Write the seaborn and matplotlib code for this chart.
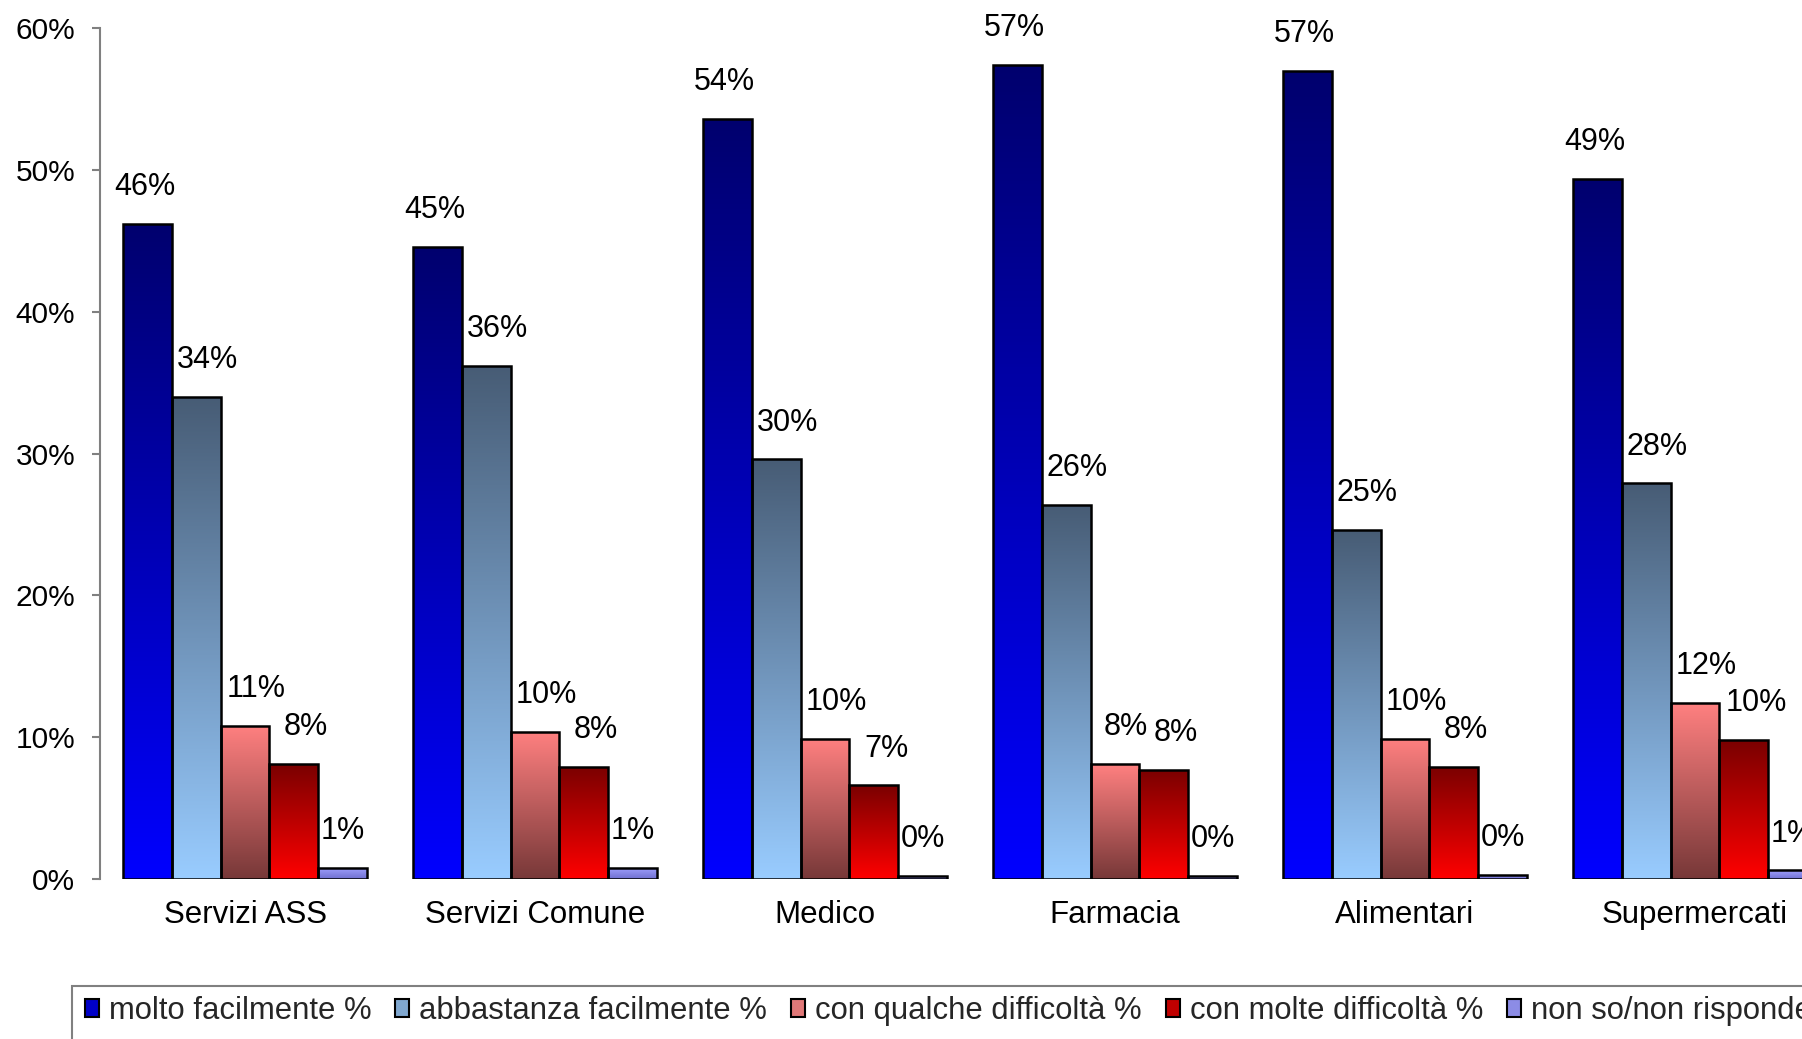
import numpy as np
import pandas as pd
import matplotlib
matplotlib.use("Agg")
import matplotlib.pyplot as plt
from matplotlib.colors import LinearSegmentedColormap
from matplotlib.patches import Rectangle
import seaborn as sns

# ---------------- data ----------------
categories = ["Servizi ASS", "Servizi Comune", "Medico", "Farmacia", "Alimentari", "Supermercati"]
series = ["molto facilmente %", "abbastanza facilmente %", "con qualche difficoltà %",
          "con molte difficoltà %", "non so/non risponde %"]
molto = [46.2, 44.6, 53.6, 57.4, 57.0, 49.4]
abbastanza = [34.0, 36.2, 29.6, 26.4, 24.6, 27.9]
qualche = [10.8, 10.4, 9.9, 8.1, 9.9, 12.4]
molte = [8.1, 7.9, 6.6, 7.7, 7.9, 9.8]
nonso = [0.8, 0.8, 0.2, 0.2, 0.3, 0.6]
yticks = [0, 10, 20, 30, 40, 50, 60]

values = [molto, abbastanza, qualche, molte, nonso]
rows = []
for s, vals in zip(series, values):
    for c, v in zip(categories, vals):
        rows.append({"categoria": c, "serie": s, "valore": v})
df = pd.DataFrame(rows)

# ---------------- style ----------------
legend_colors = ["#0000C8", "#80A8D0", "#E07878", "#C00000", "#8C8CE6"]
grad_colors = [("#0000FF", "#00006E"),   # (bottom, top)
               ("#99CCFF", "#475C75"),
               ("#773838", "#FF8080"),
               ("#FF0000", "#7A0000"),
               ("#7070D0", "#A0A0FF")]
label_dx = [-2, 8, 8, 9, 0]  # points

sns.set_theme(style="white")
plt.rcParams["font.family"] = ["Liberation Sans", "DejaVu Sans"]

W, H = 1802, 1039
fig = plt.figure(figsize=(W / 100, H / 100), dpi=100)
ax = fig.add_axes([100 / W, 1 - 879 / H, 1740 / W, (879 - 28.3) / H])

sns.barplot(data=df, x="categoria", y="valore", hue="serie", order=categories,
            hue_order=series, palette=legend_colors, saturation=1, width=0.84,
            edgecolor="black", linewidth=1.8, ax=ax, legend=True)

handles, labels = ax.get_legend_handles_labels()
if ax.get_legend() is not None:
    ax.get_legend().remove()

for i, container in enumerate(ax.containers):
    bottom_c, top_c = grad_colors[i]
    cmap = LinearSegmentedColormap.from_list(f"g{i}", [bottom_c, top_c])
    grad = np.linspace(0, 1, 256).reshape(-1, 1)
    for bar in container:
        x0 = bar.get_x()
        w = bar.get_width()
        h = bar.get_height()
        img = ax.imshow(grad, extent=(x0, x0 + w, 0, h), origin="lower", cmap=cmap,
                        aspect="auto", zorder=2, interpolation="bilinear")
        img.set_clip_path(bar)
        bar.set_facecolor("none")
        bar.set_zorder(3)
        ax.annotate(f"{round(h)}%", xy=(x0 + w / 2, h), xytext=(label_dx[i], 26.5),
                    textcoords="offset points", ha="center", va="center",
                    fontsize=22, color="black", zorder=5)

ax.set_xlim(-0.5, 5.5)
ax.set_ylim(0, 60)
ax.set_yticks(yticks)
ax.set_yticklabels([f"{v}%" for v in yticks])
ax.set_xlabel("")
ax.set_ylabel("")
for side in ["top", "right", "bottom"]:
    ax.spines[side].set_visible(False)
ax.spines["left"].set_color("#808080")
ax.spines["left"].set_linewidth(1.5)
ax.tick_params(axis="y", which="major", left=True, length=5.8, width=1.5,
               color="#808080", pad=12, labelsize=21.5, labelcolor="black")
ax.tick_params(axis="x", length=0, pad=15, labelsize=22.5, labelcolor="black")
ax.grid(False)

for hd in handles:
    hd.set_edgecolor("black")
    hd.set_linewidth(1.5)

# legend frame running past the figure's bottom and right edges
frame = Rectangle((72 / W, -0.05), 1.1, (1 - 985.7 / H) + 0.05, transform=fig.transFigure,
                  facecolor="white", edgecolor="#808080", linewidth=1.5, zorder=0)
fig.patches.append(frame)

leg = fig.legend(handles, labels, loc="center left",
                 bbox_to_anchor=(74 / W, 1 - 1011 / H), ncol=5, frameon=False,
                 fontsize=22.3, handlelength=0.45, handleheight=0.55, handletextpad=0.32,
                 columnspacing=0.78, borderpad=0.35, borderaxespad=0)

fig.savefig("out.png", dpi=100)
